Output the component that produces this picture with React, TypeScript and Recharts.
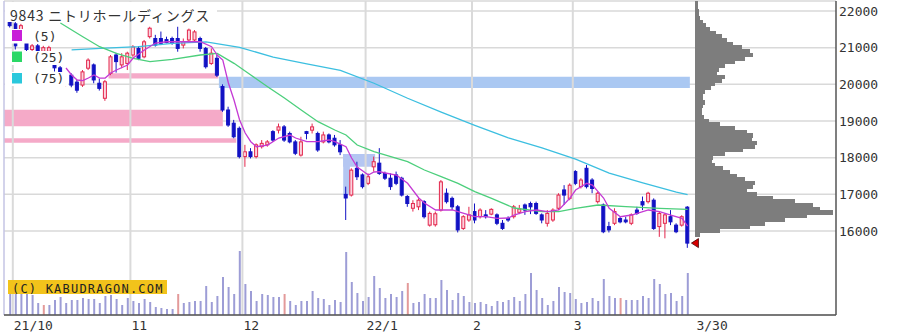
import React from 'react';
import {
  ComposedChart, Bar, Line, XAxis, YAxis, CartesianGrid,
  ReferenceArea, ReferenceLine, ReferenceDot, Cell,
} from 'recharts';

const W = 899;
const H = 334;

// Trading-day index 0 = 2021/9/30 ... 121 = 2022/3/30
const opens = [
  21800, 21650, 21350, 21300, 20950, 21050, 20900, 20900, 20700, 20450,
  20000, 20250, 20060, 19980, 20440, 20530, 20030, 19620, 20300, 20800,
  20530, 20570, 20800, 20980, 20750, 21300, 21250, 21250, 21220, 21250,
  21250, 21070, 21210, 21210, 21250, 20980, 20570, 20710, 19940, 19300,
  18940, 18800, 18030, 18160, 18030, 18300, 18350, 18710, 18750, 18840,
  18660, 18430, 18070, 18710, 18750, 18660, 18430, 18620, 18530, 18350,
  17000, 16980, 17710, 17530, 17300, 17750, 17850, 17570, 17440, 17530,
  17440, 16940, 16620, 16660, 16800, 16160, 16170, 16570, 17030, 16890,
  16660, 16070, 16300, 16530, 16390, 16440, 16460, 16440, 16210, 16340,
  16390, 16510, 16710, 16750, 16750, 16440, 16210, 16300, 16620, 17120,
  16890, 17620, 17210, 17710, 17390, 16800, 16710, 16120, 16210, 16340,
  16300, 16210, 16570, 16800, 16800, 16840, 16120, 16210, 16390, 16160,
  16160, 16650,
];
const highs = [
  21900, 21700, 21650, 21350, 21100, 21100, 21050, 21050, 20750, 20500,
  20300, 20300, 20120, 20390, 20710, 20570, 20160, 20120, 20800, 20860,
  20850, 20890, 21070, 21040, 21210, 21570, 21350, 21440, 21300, 21300,
  21570, 21250, 21520, 21480, 21300, 21020, 20980, 20800, 20000, 19390,
  19030, 18850, 18350, 18260, 18390, 18480, 18480, 18750, 18930, 18890,
  18710, 18480, 18570, 18730, 18930, 18710, 18710, 18660, 18620, 18480,
  17210, 17710, 17890, 17570, 17570, 18030, 18260, 17620, 17570, 17620,
  17480, 16980, 16840, 16890, 16840, 16530, 16530, 17390, 17160, 16940,
  16710, 16430, 16660, 16750, 16620, 16570, 16620, 16480, 16300, 16400,
  16710, 16710, 16750, 16800, 16800, 16480, 16570, 16620, 17030, 17250,
  17300, 17660, 17440, 17800, 17440, 17070, 16750, 16250, 16620, 16390,
  16390, 16480, 16660, 16940, 17070, 16890, 16530, 16480, 16570, 16210,
  16430, 16680,
];
const lows = [
  21550, 20950, 21300, 20900, 20850, 20850, 20800, 20850, 20350, 20150,
  19950, 19920, 19770, 19930, 20390, 20030, 19830, 19550, 20250, 20320,
  20440, 20390, 20750, 20660, 20710, 21250, 21030, 21070, 21120, 21080,
  20890, 20980, 21160, 21160, 20890, 20430, 20530, 20200, 19250, 18840,
  18530, 17980, 17750, 17980, 17980, 18250, 18300, 18430, 18660, 18430,
  18390, 18070, 18030, 18500, 18660, 18160, 18390, 18390, 18300, 18070,
  16300, 16940, 17390, 17160, 17250, 17620, 17530, 17390, 17120, 17250,
  16940, 16660, 16530, 16570, 16340, 16120, 16120, 16530, 16750, 16570,
  15960, 16030, 16250, 16210, 16340, 16340, 16430, 16160, 16030, 16250,
  16340, 16460, 16440, 16460, 16440, 16210, 16120, 16250, 16570, 16710,
  16840, 17250, 17160, 17160, 17030, 16750, 15940, 15960, 16160, 16210,
  16210, 16160, 16440, 16570, 16750, 16030, 15840, 15800, 16160, 15940,
  16120, 15540,
];
const closes = [
  21600, 21050, 21600, 20950, 21050, 20900, 21000, 21000, 20450, 20200,
  20250, 19980, 19840, 20340, 20660, 20120, 19890, 20070, 20750, 20620,
  20750, 20850, 21020, 20710, 21160, 21530, 21070, 21120, 21140, 21130,
  20980, 21160, 21480, 21430, 20980, 20480, 20850, 20250, 19300, 18890,
  18570, 18030, 18160, 18030, 18350, 18390, 18430, 18480, 18840, 18480,
  18430, 18120, 18430, 18660, 18840, 18210, 18620, 18430, 18350, 18160,
  16900, 17660, 17480, 17210, 17480, 17890, 17570, 17440, 17210, 17300,
  16980, 16750, 16750, 16840, 16390, 16480, 16470, 17340, 16800, 16660,
  16030, 16390, 16440, 16300, 16570, 16390, 16590, 16210, 16070, 16300,
  16660, 16600, 16570, 16660, 16480, 16300, 16480, 16570, 16980, 16980,
  17250, 17300, 17390, 17210, 17160, 17030, 15980, 16030, 16530, 16250,
  16250, 16440, 16480, 16710, 17030, 16070, 16480, 16440, 16250, 15980,
  16390, 15670,
];
// daily volume, thousand shares
const volumes = [
  1000, 1000, 880, 880, 800, 480, 400, 400, 600, 720,
  480, 600, 600, 680, 640, 640, 480, 760, 800, 640,
  400, 680, 560, 480, 640, 520, 320, 280, 240, 240,
  840, 480, 520, 560, 560, 1160, 520, 760, 1520, 1120,
  840, 2560, 1240, 960, 560, 840, 800, 720, 720, 840,
  560, 400, 560, 560, 960, 680, 640, 400, 600, 520,
  2520, 1320, 880, 560, 720, 1560, 1080, 680, 840, 720,
  960, 1280, 480, 520, 840, 680, 680, 1400, 1000, 600,
  880, 760, 520, 480, 520, 440, 360, 560, 520, 600,
  720, 560, 840, 1680, 1000, 680, 400, 560, 1120, 920,
  880, 640, 480, 520, 680, 560, 1440, 760, 680, 680,
  600, 600, 600, 760, 680, 1440, 1240, 840, 880, 560,
  760, 1680,
];
const redVolumeDays = [6, 30, 49, 71, 109];

// moving averages: [day index, price]
const ma5Points: [number, number][] = [
  [10, 20445], [11, 20254], [12, 20118], [13, 20100], [14, 20172], [15, 20254], [16, 20172],
  [17, 20172], [18, 20309], [19, 20391], [21, 20527], [22, 20718], [24, 20936], [26, 21127],
  [28, 21162], [32, 21162], [34, 21162], [36, 21026], [37, 20800], [38, 20663], [39, 20036],
  [40, 19572], [41, 19027], [42, 18672], [43, 18435], [44, 18299], [46, 18345], [48, 18536],
  [50, 18618], [51, 18536], [53, 18435], [55, 18435], [57, 18482], [58, 18435], [60, 18299],
  [61, 17991], [62, 17745], [63, 17636], [64, 17527], [65, 17609], [66, 17617], [67, 17582],
  [69, 17527], [71, 17301], [73, 16900], [74, 16764], [76, 16573], [77, 16573], [79, 16573],
  [80, 16526], [83, 16390], [85, 16390], [87, 16346], [89, 16355], [90, 16436], [92, 16526],
  [94, 16573], [96, 16526], [98, 16573], [99, 16736], [100, 16900], [101, 17118], [103, 17301],
  [104, 17254], [106, 16900], [107, 16619], [109, 16390], [111, 16436], [113, 16526], [114, 16573],
  [116, 16526], [118, 16436], [120, 16346], [121, 16136],
];
const ma25Points: [number, number][] = [
  [9, 21672], [13, 21299], [16, 21026], [19, 20846], [22, 20710], [25, 20617], [29, 20682],
  [34, 20800], [37, 20846], [40, 20573], [43, 20254], [46, 19935], [49, 19627], [52, 19300],
  [55, 18981], [58, 18754], [60, 18620], [62, 18345], [65, 18163], [68, 18027], [71, 17890],
  [74, 17663], [77, 17481], [80, 17300], [83, 17072], [86, 16892], [90, 16627], [95, 16526],
  [98, 16526], [101, 16619], [105, 16709], [110, 16663], [116, 16619], [121, 16592],
];
const ma75Points: [number, number][] = [
  [11, 20940], [17, 20990], [23, 21030], [29, 21120], [35, 21160], [41, 21010], [47, 20740],
  [53, 20560], [59, 20380], [65, 20030], [71, 19620], [77, 19240], [83, 18880], [89, 18540],
  [95, 18270], [101, 17960], [107, 17580], [113, 17310], [119, 17060], [121, 16990],
];

// price zones: [from index, to index, low price, high price]
const pinkZones: [number, number, number, number][] = [
  [17.6, 37.2, 20160, 20300],
  [-1.07, 38.0, 18860, 19310],
  [-1.07, 40.4, 18410, 18530],
];
const blueZones: [number, number, number, number][] = [[37.3, 121.4, 19900, 20210]];
const gapZones: [number, number, number, number][] = [
  [59.5, 65.2, 17750, 18100],
  [59.5, 60.7, 16980, 18100],
];

const monthGridIdx = [0.5, 21.5, 41.5, 63.5, 82.5, 100.5];
const xTickIdx = [0.5, 21.5, 41.5, 63.5, 82.5, 100.5, 122.4];
const xTickLabels = ['21/10', '11', '12', '22/1', '2', '3', '3/30'];
const priceTicks = [16000, 17000, 18000, 19000, 20000, 21000, 22000];
const lastClose = 15670;
const lastMarkIdx = 122.4;

// price-by-volume profile
const profilePrices = [
  15900, 16000, 16100, 16200, 16300, 16400, 16500, 16600, 16700, 16800,
  16900, 17000, 17100, 17200, 17300, 17400, 17500, 17600, 17700, 17800,
  17900, 18000, 18100, 18200, 18300, 18400, 18500, 18600, 18700, 18800,
  18900, 19000, 19100, 19200, 19300, 19400, 19500, 19600, 19700, 19800,
  19900, 20000, 20100, 20200, 20300, 20400, 20500, 20600, 20700, 20800,
  20900, 21000, 21100, 21200, 21300, 21400, 21500, 21600, 21700, 21800,
  21900, 22000, 22100, 22200,
];
const profileVolumes = [
  50, 250, 550, 700, 900, 1120, 1380, 1250, 1180, 1000,
  780, 620, 520, 580, 600, 500, 420, 350, 280, 200,
  170, 180, 300, 480, 600, 620, 570, 580, 520, 400,
  250, 140, 90, 70, 70, 80, 100, 80, 80, 100,
  160, 200, 270, 300, 220, 240, 300, 400, 500, 580,
  550, 470, 380, 320, 270, 210, 150, 110, 80, 50,
  40, 40, 30, 30,
];

const XMIN = -1.0714;
const XMAX = 147.5;
const PMIN = 13709;
const PMAX = 22273;
const VMAX = 12560;
const PROFILE_DOMAIN: [number, number] = [-6910, 1410];
const PROFILE_STEP_PX = 4.2;

const lookup = (pts: [number, number][], i: number) => {
  const f = pts.find((p) => p[0] === i);
  return f ? f[1] : null;
};

const rows = opens.map((o, i) => ({
  i,
  open: o,
  high: highs[i],
  low: lows[i],
  close: closes[i],
  range: [lows[i], highs[i]],
  vol: volumes[i],
  ma5: lookup(ma5Points, i),
  ma25: lookup(ma25Points, i),
  ma75: lookup(ma75Points, i),
}));

const profileRows = profilePrices.map((p, k) => ({ price: p, vol: profileVolumes[k] }));

const UP = '#e3264c';
const UP_FILL = '#fcd3de';
const DOWN = '#1212c4';

const Candle = (props: any) => {
  const { x, y, width, height, payload } = props;
  if (payload == null || height == null) return null;
  const { open, close, high, low } = payload;
  const up = close >= open;
  const span = high - low || 1;
  const ratio = height / span;
  const yOf = (v: number) => y + (high - v) * ratio;
  const bt = yOf(Math.max(open, close));
  const bb = yOf(Math.min(open, close));
  const cx = x + width / 2;
  const color = up ? UP : DOWN;
  return (
    <g>
      <line x1={cx} x2={cx} y1={y} y2={y + height} stroke={color} strokeWidth={1} />
      <rect
        x={x + 1}
        y={bt}
        width={Math.max(width - 2, 1)}
        height={Math.max(bb - bt, 0.8)}
        fill={up ? UP_FILL : color}
        stroke={color}
        strokeWidth={1}
      />
    </g>
  );
};

const ProfileBar = (props: any) => {
  const { x, y, width, height } = props;
  if (x == null || y == null || width == null) return null;
  const cy = y + (height || 0) / 2;
  return (
    <rect
      x={x}
      y={cy - PROFILE_STEP_PX / 2}
      width={Math.max(width, 0)}
      height={PROFILE_STEP_PX}
      fill="#7d7d7d"
      shapeRendering="crispEdges"
    />
  );
};

const AXIS_FONT = "'DejaVu Sans Mono', monospace";

const XTick = (props: any) => {
  const { x, y, payload } = props;
  const k = xTickIdx.indexOf(payload.value);
  const label = k >= 0 ? xTickLabels[k] : '';
  return (
    <text x={x + 1} y={y + 14.5} textAnchor="start" fontFamily={AXIS_FONT} fontSize={13} fill="#333">
      {label}
    </text>
  );
};

const YTick = (props: any) => {
  const { x, y, payload } = props;
  return (
    <text x={x} y={y + 4.5} textAnchor="start" fontFamily={AXIS_FONT} fontSize={13} fill="#333">
      {payload.value}
    </text>
  );
};

const LastMark = (props: any) => {
  const { cx, cy } = props;
  if (cx == null || cy == null) return null;
  return (
    <polygon
      points={`${cx - 4},${cy} ${cx + 3},${cy - 4.5} ${cx + 3},${cy + 4.5}`}
      fill="#d80000"
      stroke="#400"
      strokeWidth={0.8}
    />
  );
};

export default function App() {
  return (
    <div style={{ position: 'absolute', left: 0, top: 0, width: W, height: H, background: '#fff', fontFamily: "'Noto Sans', sans-serif" }}>
      <div style={{ position: 'absolute', left: 0, top: 0 }}>
        <ComposedChart width={W} height={H} data={rows} margin={{ top: 1, right: 0, bottom: 0, left: 4 }}>
          <XAxis
            xAxisId="x"
            dataKey="i"
            type="number"
            domain={[XMIN, XMAX]}
            allowDataOverflow
            ticks={xTickIdx}
            interval={0}
            tick={<XTick />}
            tickLine={false}
            tickSize={0}
            tickMargin={0}
            height={19}
            axisLine={{ stroke: '#555', strokeWidth: 1.5 }}
          />
          <XAxis xAxisId="xv" dataKey="i" type="number" domain={[XMIN, XMAX]} allowDataOverflow hide />
          <YAxis
            yAxisId="p"
            orientation="right"
            type="number"
            domain={[PMIN, PMAX]}
            allowDataOverflow
            ticks={priceTicks}
            interval={0}
            width={63}
            tick={<YTick />}
            tickLine={false}
            tickSize={3}
            tickMargin={0}
            axisLine={{ stroke: '#555', strokeWidth: 1.5 }}
          />
          <YAxis yAxisId="v" type="number" domain={[0, VMAX]} allowDataOverflow hide />
          <CartesianGrid xAxisId="x" yAxisId="p" vertical={false} stroke="#d9d9d9" strokeWidth={1.5} />
          {monthGridIdx.map((v) => (
            <ReferenceLine key={v} xAxisId="x" yAxisId="p" x={v} stroke="#dadada" strokeWidth={2} />
          ))}
          <ReferenceLine xAxisId="x" yAxisId="p" x={XMIN} stroke="#c4c4e4" strokeWidth={1.5} />
          {pinkZones.map((z, k) => (
            <ReferenceArea key={'p' + k} xAxisId="x" yAxisId="p" x1={z[0]} x2={z[1]} y1={z[2]} y2={z[3]} fill="#f5aac8" fillOpacity={1} stroke="none" ifOverflow="hidden" />
          ))}
          {blueZones.map((z, k) => (
            <ReferenceArea key={'b' + k} xAxisId="x" yAxisId="p" x1={z[0]} x2={z[1]} y1={z[2]} y2={z[3]} fill="#aac8f2" fillOpacity={1} stroke="none" />
          ))}
          {gapZones.map((z, k) => (
            <ReferenceArea key={'g' + k} xAxisId="x" yAxisId="p" x1={z[0]} x2={z[1]} y1={z[2]} y2={z[3]} fill="#b4c6f2" fillOpacity={1} stroke="none" />
          ))}
          <Bar xAxisId="xv" yAxisId="v" dataKey="vol" barSize={2} isAnimationActive={false}>
            {rows.map((r) => (
              <Cell key={r.i} fill={redVolumeDays.includes(r.i) ? '#e39a9a' : '#9d9dd6'} />
            ))}
          </Bar>
          <Bar xAxisId="x" yAxisId="p" dataKey="range" barSize={5} shape={<Candle />} isAnimationActive={false} />
          <Line xAxisId="x" yAxisId="p" dataKey="ma75" stroke="#3cbfe0" strokeWidth={1.3} dot={false} connectNulls isAnimationActive={false} />
          <Line xAxisId="x" yAxisId="p" dataKey="ma25" stroke="#4ccf7c" strokeWidth={1.3} dot={false} connectNulls isAnimationActive={false} />
          <Line xAxisId="x" yAxisId="p" dataKey="ma5" stroke="#c43ad4" strokeWidth={1.3} dot={false} connectNulls isAnimationActive={false} />
          <ReferenceDot xAxisId="x" yAxisId="p" x={lastMarkIdx} y={lastClose} shape={<LastMark />} />
        </ComposedChart>
      </div>
      <div style={{ position: 'absolute', left: 0, top: 0, pointerEvents: 'none' }}>
        <ComposedChart layout="vertical" width={W} height={H} data={profileRows} margin={{ top: 1, right: 63, bottom: 19, left: 4 }} barGap={0} barCategoryGap={0}>
          <XAxis type="number" domain={PROFILE_DOMAIN} allowDataOverflow hide />
          <YAxis type="number" dataKey="price" domain={[PMIN, PMAX]} allowDataOverflow reversed hide />
          <Bar dataKey="vol" fill="#7d7d7d" barSize={4} shape={<ProfileBar />} isAnimationActive={false} />
        </ComposedChart>
      </div>
      <svg width={W} height={H} style={{ position: 'absolute', left: 0, top: 0, pointerEvents: 'none' }}>
        <rect x={5} y={2} width={212} height={20} fill="#fff" />
        <text x={10} y={20.5} fontFamily="'Noto Sans CJK JP', sans-serif" fontSize={14} letterSpacing={0.8} fill="#333">
          9843 ニトリホールディングス
        </text>
        <rect x={5} y={29} width={63} height={14.5} fill="#fff" />
        <rect x={5} y={51} width={63} height={14} fill="#fff" />
        <rect x={5} y={72} width={63} height={14} fill="#fff" />
        <rect x={12} y={30} width={10} height={11} fill="#c81fd8" />
        <rect x={12} y={51.5} width={10} height={10.5} fill="#2bd866" />
        <rect x={12} y={73} width={10} height={10.5} fill="#2bc8dc" />
        <text x={33} y={41} fontFamily={AXIS_FONT} fontSize={13} fill="#333">(5)</text>
        <text x={33} y={62} fontFamily={AXIS_FONT} fontSize={13} fill="#333">(25)</text>
        <text x={33} y={83} fontFamily={AXIS_FONT} fontSize={13} fill="#333">(75)</text>
        <rect x={8} y={280} width={159} height={14} fill="#f2c31b" />
        <text x={12} y={292.5} fontFamily={AXIS_FONT} fontSize={12} letterSpacing={1.2} fill="#222">
          (C) KABUDRAGON.COM
        </text>
      </svg>
    </div>
  );
}
